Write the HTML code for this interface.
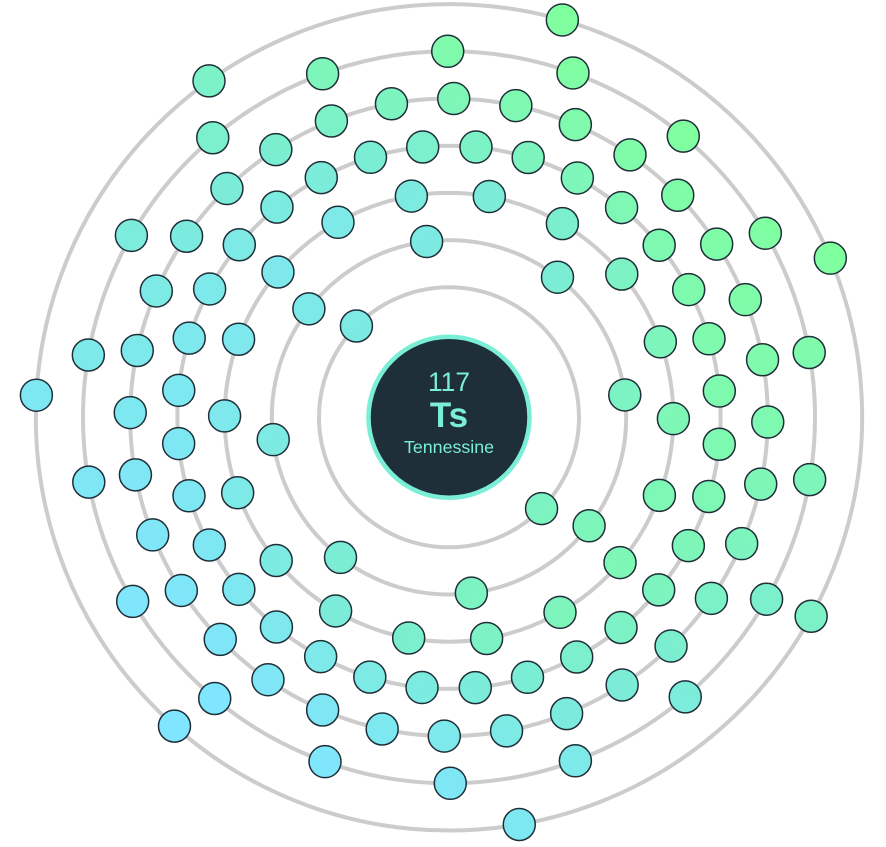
<!DOCTYPE html>
<html lang="en">
<head>
<meta charset="utf-8">
<title>Tennessine electron shells</title>
<style>
html,body{margin:0;padding:0;background:#fff;width:886px;height:847px;overflow:hidden}
svg{display:block;font-family:"Liberation Sans",sans-serif}
</style>
</head>
<body>
<svg id="chart" width="886" height="847" viewBox="0 0 886 847" xmlns="http://www.w3.org/2000/svg">
  <defs id="gradients"></defs>
  <g id="shells"></g>
  <g id="electrons"></g>
  <g>
    <circle cx="449" cy="417.3" r="80.5" fill="#1f2f39" stroke="#7beed6" stroke-width="4.5"></circle>
    <text x="449" y="391" text-anchor="middle" font-size="26.4" fill="#7beed6">117</text>
    <text x="449" y="427" text-anchor="middle" font-size="35" font-weight="700" fill="#7beed6">Ts</text>
    <text x="449" y="453" text-anchor="middle" font-size="17.8" fill="#7beed6">Tennessine</text>
  </g>
</svg>
<script>
// Electrons per shell, innermost to outermost
const shellCounts = [2, 8, 18, 32, 32, 18, 7];
// Rotation of the first electron of each shell, in degrees
const shellPhases = [44.6, -7.25, 0.35, 5.7, 0.85, 9.8, -22.65];
// Direction in which each shell's colour gradient is greenest, in degrees
const shellGreenDirections = [50, 38, 20, -17, -38, -50, -48];

const NS = 'http://www.w3.org/2000/svg';
const centerX = 449;
const centerY = 417.3;
const firstRadius = 130;
const shellGap = 47.2;
const gradientReach = 375;

function radiusScale(shellIndex) {
  return firstRadius + shellIndex * shellGap;
}
function angleScale(shellIndex, electronIndex) {
  const deg = shellPhases[shellIndex] + electronIndex * 360 / shellCounts[shellIndex];
  return deg * Math.PI / 180;
}

const gradientDefs = document.getElementById('gradients');
const shellLayer = document.getElementById('shells');
const electronLayer = document.getElementById('electrons');

shellCounts.forEach(function (count, s) {
  const radius = radiusScale(s);
  const dir = shellGreenDirections[s] * Math.PI / 180;

  const grad = document.createElementNS(NS, 'linearGradient');
  grad.setAttribute('id', 'shell-gradient-' + s);
  grad.setAttribute('gradientUnits', 'userSpaceOnUse');
  grad.setAttribute('x1', centerX + gradientReach * Math.cos(dir));
  grad.setAttribute('y1', centerY + gradientReach * Math.sin(dir));
  grad.setAttribute('x2', centerX - gradientReach * Math.cos(dir));
  grad.setAttribute('y2', centerY - gradientReach * Math.sin(dir));
  [['0', '#80ff9f'], ['0.5', '#7bedd4'], ['1', '#80e5ff']].forEach(function (st) {
    const stop = document.createElementNS(NS, 'stop');
    stop.setAttribute('offset', st[0]);
    stop.setAttribute('stop-color', st[1]);
    grad.appendChild(stop);
  });
  gradientDefs.appendChild(grad);

  const ring = document.createElementNS(NS, 'circle');
  
  
  ring.setAttribute('cx', centerX);
  ring.setAttribute('cy', centerY);
  ring.setAttribute('r', radius);
  ring.setAttribute('fill', 'none');
  ring.setAttribute('stroke', '#cccccc');
  ring.setAttribute('stroke-width', '4');
  shellLayer.appendChild(ring);

  for (let i = 0; i < count; i++) {
    const a = angleScale(s, i);
    const dot = document.createElementNS(NS, 'circle');
    
    
    dot.setAttribute('cx', centerX + radius * Math.cos(a));
    dot.setAttribute('cy', centerY + radius * Math.sin(a));
    dot.setAttribute('r', '16');
    dot.setAttribute('fill', 'url(#shell-gradient-' + s + ')');
    dot.setAttribute('stroke', '#1f2f39');
    dot.setAttribute('stroke-width', '1.5');
    electronLayer.appendChild(dot);
  }
});
</script>
</body>
</html>
